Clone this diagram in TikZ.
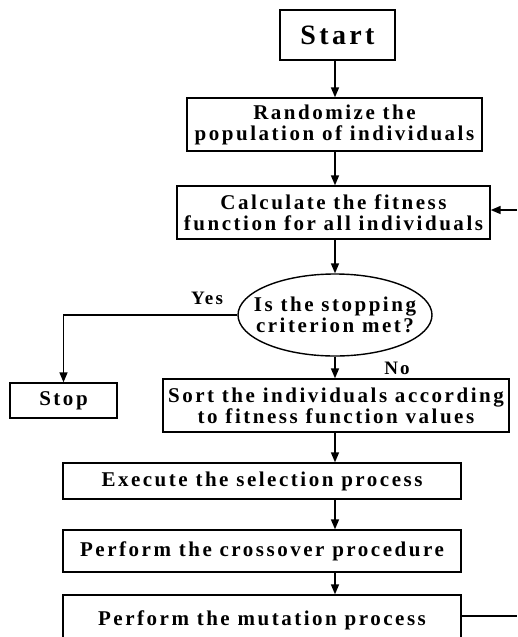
\documentclass[tikz,border=0pt]{standalone}
\usepackage{fontspec}
\setmainfont{Liberation Serif}[BoldFont={Liberation Serif Bold}, LetterSpace=12]
\usetikzlibrary{arrows.meta,shapes.geometric}
\begin{document}
\begin{tikzpicture}[x=1pt,y=1pt,
		every node/.style={draw, rectangle, line width=1.4pt, inner sep=2pt, align=center, font=\fontsize{21}{21}\selectfont\bfseries},
		flow/.style={-{Triangle[length=10pt,width=8pt]}, line width=1.6pt},
		tag/.style={draw=none, font=\fontsize{19}{20}\selectfont\bfseries}
	]
		\clip (0,0) rectangle (517,-637);
		\coordinate (axis) at (335,0);
		% Main chain
		\node[minimum width=115, minimum height=50, font=\fontsize{28}{28}\selectfont\bfseries] (start) at (337.5,-35) {Start};
		\node[minimum width=295, minimum height=53] (rand) at (334.5,-124.5) {Randomize the\\population of individuals};
		\node[minimum width=313, minimum height=53] (calc) at (333.5,-212.5) {Calculate the fitness\\function for all individuals};
		\node[ellipse, inner xsep=-16pt, inner ysep=0pt, minimum width=194, minimum height=82] (crit) at (335,-315) {Is the stopping\\criterion met?};
		\node[minimum width=107, minimum height=35] (stop) at (63.5,-400.5) {Stop};
		\node[minimum width=346, minimum height=53] (sort) at (336,-405.5) {Sort the individuals according\\to fitness function values};
		\node[minimum width=398, minimum height=36] (sel) at (262,-481) {Execute the selection process};
		\node[minimum width=398, minimum height=42] (cross) at (262,-551) {Perform the crossover procedure};
		\node[minimum width=398, minimum height=50] (mut) at (262,-620) {Perform the mutation process};
		
		% Labels
		\node[tag] (yes) at (207,-298) {Yes};
		\node[tag] (no) at (397,-368) {No};
		
		% Arrows
		\draw[flow] (start.south -| axis) -- (rand.north -| axis);
		\draw[flow] (rand.south -| axis) -- (calc.north -| axis);
		\draw[flow] (calc.south -| axis) -- (crit.north -| axis);
		\draw[flow] (crit.south) -- (sort.north -| crit.south);
		\draw[flow] (crit.west) -| (stop.north);
		\draw[flow] (sort.south -| axis) -- (sel.north -| axis);
		\draw[flow] (sel.south -| axis) -- (cross.north -| axis);
		\draw[flow] (cross.south -| axis) -- (mut.north -| axis);
		
		% Loop back
		\coordinate (loopin) at (517,-210);
		\coordinate (loopout) at (517,-616);
		\draw[flow] (loopin) -- (calc.east |- loopin);
		\draw[line width=1.4pt] (mut.east |- loopout) -- (loopout);
	\end{tikzpicture}
\end{document}
